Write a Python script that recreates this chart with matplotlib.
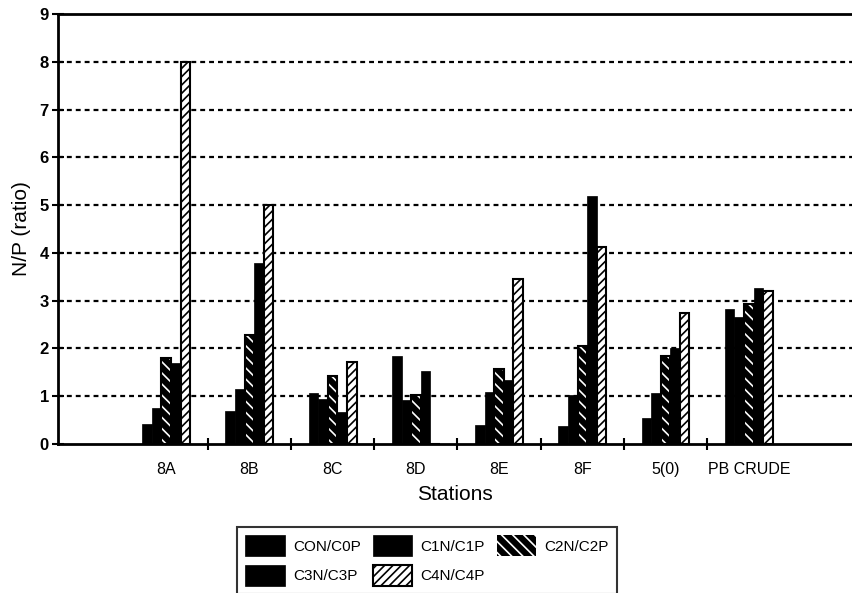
import matplotlib
matplotlib.use("Agg")
import matplotlib.pyplot as plt
import numpy as np

stations = ["8A", "8B", "8C", "8D", "8E", "8F", "5(0)", "PB CRUDE"]
series_names = ["CON/C0P", "C1N/C1P", "C2N/C2P", "C3N/C3P", "C4N/C4P"]
c0 = [0.41, 0.69, 1.06, 1.85, 0.39, 0.37, 0.55, 2.83]
c1 = [0.75, 1.15, 0.95, 0.92, 1.09, 1.02, 1.07, 2.66]
c2 = [1.81, 2.28, 1.43, 1.02, 1.58, 2.06, 1.84, 2.93]
c3 = [1.70, 3.79, 0.67, 1.53, 1.34, 5.19, 2.00, 3.27]
c4 = [8.00, 5.00, 1.71, 0.00, 3.46, 4.13, 2.75, 3.21]
yticks = [0, 1, 2, 3, 4, 5, 6, 7, 8, 9]

plt.rcParams['font.family'] = ['Liberation Sans', 'DejaVu Sans']
plt.rcParams['hatch.linewidth'] = 1.2

fig = plt.figure(figsize=(8.52, 5.93), dpi=100)
ax = fig.add_axes([58/852, 1-444/593, 1-58/852, 430/593])

x = np.arange(1, len(stations) + 1)
w = 0.115
data = [c0, c1, c2, c3, c4]
handles = []
for i, vals in enumerate(data):
    pos = x + (i - 2) * w
    if i == 2:
        h = ax.bar(pos, vals, w, color='black', edgecolor='white', hatch='\\\\\\', linewidth=0, zorder=3)
        ax.bar(pos, vals, w, fill=False, edgecolor='black', linewidth=1.5, zorder=4)
    elif i == 4:
        h = ax.bar(pos, vals, w, color='white', edgecolor='black', hatch='////', linewidth=1.5, zorder=3)
    else:
        h = ax.bar(pos, vals, w, color='black', edgecolor='black', linewidth=0.5, zorder=3)
    handles.append(h)

ax.set_xlim(-0.3, 9.24)
ax.set_ylim(0, 9)
ax.set_yticks(yticks)
ax.set_yticklabels([str(v) for v in yticks], fontsize=12, fontweight='bold')
for v in yticks[1:-1]:
    ax.axhline(v, color='black', linestyle=(0, (2.2, 1.8)), linewidth=1.6, zorder=1)

ax.set_xticks(x[:-1] + 0.5)
ax.set_xticklabels([])
ax.set_xticks(x, minor=True)
ax.set_xticklabels(stations, minor=True, fontsize=11.5)
ax.tick_params(axis='x', which='minor', length=0, pad=13)
ax.tick_params(axis='x', which='major', direction='inout', length=9, width=1.5)
ax.tick_params(axis='y', direction='inout', length=9, width=1.5, pad=2)

for s in ['left', 'bottom', 'top']:
    ax.spines[s].set_linewidth(2)
ax.spines['right'].set_visible(False)

ax.set_ylabel("N/P (ratio)", fontsize=15, labelpad=6)
ax.set_xlabel("Stations", fontsize=15, labelpad=6)

order = [0, 3, 1, 4, 2]
leg = fig.legend([handles[k] for k in order], [series_names[k] for k in order],
                 ncol=3, loc='upper left', bbox_to_anchor=(237/852, 1-527/593),
                 frameon=True, fancybox=False, fontsize=11, handlelength=2.6,
                 handleheight=1.7, columnspacing=0.8, handletextpad=0.5,
                 borderpad=0.55, labelspacing=0.6, borderaxespad=0)
leg.get_frame().set_edgecolor('black')
leg.get_frame().set_linewidth(1.5)

fig.savefig("out.png", dpi=100)
